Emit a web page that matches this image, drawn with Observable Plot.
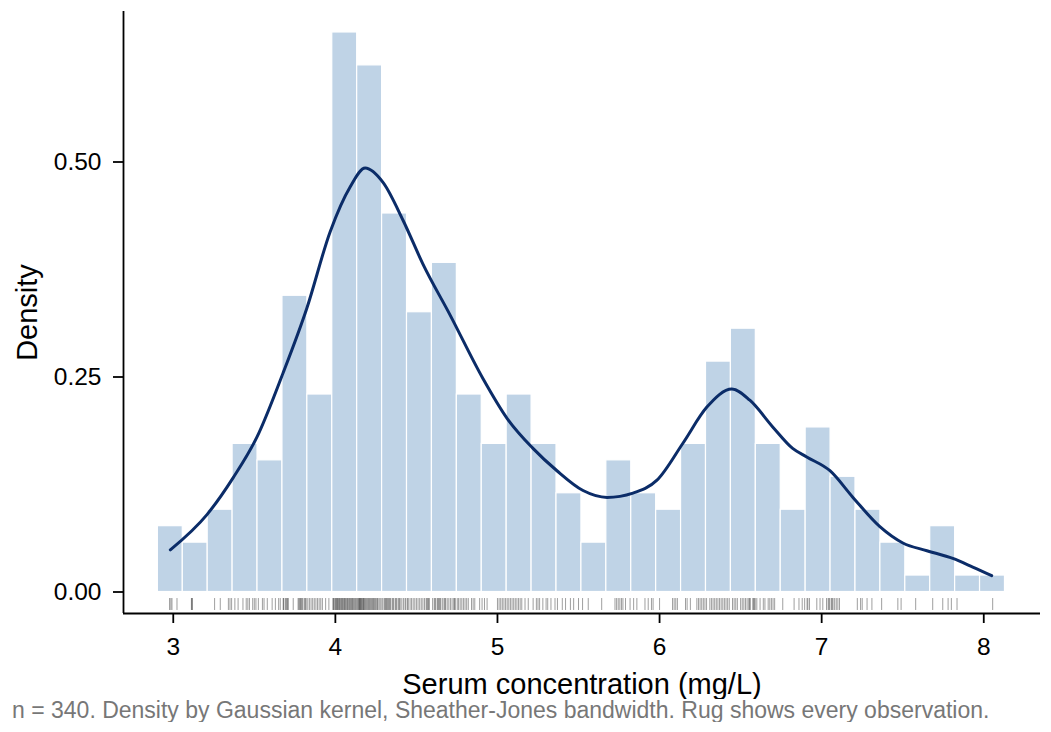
<!DOCTYPE html>
<html>
<head>
<meta charset="utf-8">
<script src="https://cdn.jsdelivr.net/npm/d3@7"></script>
<script src="https://cdn.jsdelivr.net/npm/@observablehq/plot@0.6"></script>
<style>
  html, body { margin: 0; padding: 0; background: #fff; }
  #chart svg { display: block; }
  #caption { font-family: "Liberation Sans", Arial, Helvetica, sans-serif; font-size: 23px; line-height: 1; color: #777; padding-left: 12px; white-space: nowrap; }
</style>
</head>
<body>
<div id="chart"></div>
<div id="caption">n = 340. Density by Gaussian kernel, Sheather-Jones bandwidth. Rug shows every observation.</div>
<script>
// Observations (mg/L), estimated from the rug, grouped by histogram bin
const observations = [
  2.977, 2.985, 2.992, 3.023,
  3.112, 3.115, 3.118,
  3.255, 3.29, 3.34, 3.35, 3.36,
  3.38, 3.40, 3.43, 3.45, 3.46, 3.47, 3.49, 3.50, 3.51,
  3.525, 3.55, 3.56, 3.58, 3.61, 3.63, 3.65, 3.66,
  3.678, 3.68, 3.69, 3.695, 3.70, 3.705, 3.71, 3.74, 3.77, 3.775, 3.78, 3.785, 3.79, 3.795, 3.80, 3.81, 3.815, 3.82,
  3.83, 3.84, 3.85, 3.86, 3.87, 3.88, 3.89, 3.90, 3.91, 3.92, 3.94, 3.96,
  3.985, 3.988, 3.992, 3.998, 4.002, 4.006, 4.01, 4.013, 4.018, 4.022, 4.026, 4.03, 4.035, 4.04, 4.042, 4.047, 4.052,
  4.056, 4.06, 4.064, 4.07, 4.074, 4.078, 4.083, 4.088, 4.092, 4.097, 4.101, 4.106, 4.11, 4.115, 4.12, 4.125, 4.13,
  4.138, 4.14, 4.145, 4.148, 4.15, 4.155, 4.158, 4.16, 4.165, 4.17, 4.172, 4.175, 4.18, 4.185, 4.19, 4.195,
  4.20, 4.205, 4.21, 4.215, 4.22, 4.225, 4.23, 4.235, 4.24, 4.245, 4.25, 4.256, 4.26, 4.268, 4.275, 4.282,
  4.29, 4.30, 4.305, 4.31, 4.315, 4.32, 4.325, 4.33, 4.335, 4.34, 4.35, 4.355, 4.36, 4.37, 4.375, 4.38, 4.39, 4.395, 4.40, 4.41, 4.42, 4.43, 4.435,
  4.445, 4.45, 4.461, 4.47, 4.48, 4.49, 4.50, 4.51, 4.52, 4.53, 4.54, 4.55, 4.56, 4.565, 4.57, 4.575, 4.58,
  4.60, 4.61, 4.615, 4.62, 4.63, 4.635, 4.64, 4.645, 4.65, 4.66, 4.67, 4.675, 4.68, 4.69, 4.70, 4.71, 4.72, 4.73, 4.735, 4.74,
  4.752, 4.76, 4.77, 4.78, 4.79, 4.80, 4.81, 4.82, 4.84, 4.85, 4.86, 4.89,
  4.905, 4.92, 4.936, 5.00, 5.01, 5.02, 5.03, 5.04, 5.05,
  5.06, 5.07, 5.08, 5.09, 5.10, 5.11, 5.12, 5.13, 5.14, 5.15, 5.17, 5.19,
  5.22, 5.24, 5.25, 5.26, 5.28, 5.30, 5.31, 5.33, 5.355,
  5.37, 5.40, 5.42, 5.45, 5.47, 5.50,
  5.525, 5.56, 5.643,
  5.725, 5.735, 5.745, 5.755, 5.765, 5.774, 5.79, 5.818,
  5.84, 5.86, 5.91, 5.93, 5.95, 5.96,
  6.00, 6.08, 6.09, 6.10, 6.11,
  6.16, 6.17, 6.19, 6.23, 6.24, 6.25, 6.26, 6.27, 6.28,
  6.29, 6.31, 6.32, 6.33, 6.34, 6.35, 6.36, 6.37, 6.38, 6.39, 6.40, 6.41, 6.42, 6.43,
  6.45, 6.46, 6.47, 6.48, 6.50, 6.51, 6.52, 6.53, 6.54, 6.55, 6.555, 6.56, 6.575, 6.58, 6.585, 6.59,
  6.60, 6.62, 6.64, 6.65, 6.67, 6.68, 6.69, 6.70, 6.71,
  6.76, 6.83, 6.86, 6.88, 6.895,
  6.91, 6.915, 6.925, 6.97, 6.99, 7.007, 7.03, 7.04, 7.045, 7.05,
  7.06, 7.065, 7.07, 7.08, 7.09, 7.10, 7.11,
  7.22, 7.24, 7.25, 7.28, 7.31,
  7.37, 7.47, 7.49,
  7.58,
  7.685, 7.747, 7.78, 7.80,
  7.835,
  8.055
];

// Kernel density curve
const kdeX = [2.982, 3.208, 3.370, 3.516, 3.678, 3.824, 3.968, 4.091, 4.184, 4.295, 4.418, 4.541, 4.708, 4.911,
  5.059, 5.219, 5.367, 5.528, 5.676, 5.836, 5.984, 6.144, 6.292, 6.446, 6.557, 6.698, 6.821, 6.908,
  7.051, 7.193, 7.359, 7.501, 7.649, 7.809, 7.932, 8.049];
const kdeY = [0.049, 0.090, 0.133, 0.180, 0.255, 0.330, 0.419, 0.471, 0.493, 0.476, 0.432, 0.381, 0.322, 0.248,
  0.202, 0.167, 0.141, 0.118, 0.110, 0.115, 0.130, 0.173, 0.215, 0.236, 0.223, 0.192, 0.167, 0.157,
  0.141, 0.110, 0.076, 0.057, 0.048, 0.039, 0.029, 0.019];

// Histogram binning
const binStart = 2.905;
const binWidth = 0.1537;
const binCount = 34;

// Axis ticks
const xTicks = [3, 4, 5, 6, 7, 8];
const yTicks = [0, 0.25, 0.5];
const xDomain = [2.693, 8.35];
const yDomain = [-0.025, 0.675];

const n = observations.length;
const edges = d3.range(binCount + 1).map(i => binStart + i * binWidth);
const bins = d3.bin()
  .domain([edges[0], edges[binCount]])
  .thresholds(edges.slice(1, -1))(observations);
const hist = bins.map(b => ({x1: b.x0, x2: b.x1, density: b.length / (n * (b.x1 - b.x0))}));
const kde = kdeX.map((x, i) => ({x, y: kdeY[i]}));

const font = '"Liberation Sans", Arial, Helvetica, sans-serif';

const chart = Plot.plot({
  width: 1051,
  height: 699,
  marginLeft: 123,
  marginRight: 11,
  marginTop: 11,
  marginBottom: 86,
  style: {fontFamily: font, fontSize: "24.5px", color: "#000", background: "#fff"},
  x: {domain: xDomain},
  y: {domain: yDomain},
  marks: [
    Plot.rect(hist, {x1: "x1", x2: "x2", y1: 0, y2: "density", fill: "#bfd3e6", stroke: "#fff", strokeWidth: 1.2}),
    Plot.ruleX(observations, {x: d => d, y1: -0.0076, y2: -0.0215, stroke: "#000", strokeOpacity: 0.38, strokeWidth: 1}),
    Plot.line(kde, {x: "x", y: "y", stroke: "#0b2c68", strokeWidth: 3, curve: "monotone-x"}),
    Plot.axisX({ticks: xTicks, tickFormat: d => String(d), tickSize: 10, tickPadding: 14, label: null, strokeWidth: 1.8}),
    Plot.axisY({ticks: yTicks, tickFormat: d3.format(".2f"), tickSize: 10, tickPadding: 12, label: null, strokeWidth: 1.8}),
    Plot.ruleX([xDomain[0]], {stroke: "#000", strokeWidth: 1.8}),
    Plot.ruleY([yDomain[0]], {stroke: "#000", strokeWidth: 1.8}),
    Plot.text(["Density"], {frameAnchor: "left", textAnchor: "middle", dx: -96, rotate: -90, fontSize: 29, fill: "#000"}),
    Plot.text(["Serum concentration (mg/L)"], {frameAnchor: "bottom", dy: 80, fontSize: 29, fill: "#000"})
  ]
});
document.getElementById("chart").appendChild(chart);
</script>
</body>
</html>
